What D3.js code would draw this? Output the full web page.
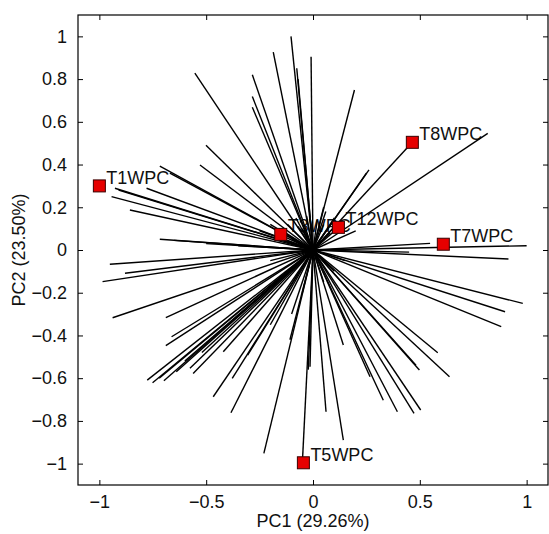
<!DOCTYPE html>
<html><head><meta charset="utf-8">
<script src="https://cdn.jsdelivr.net/npm/d3@7"></script>
<style>
html,body{margin:0;padding:0;background:#fff;}
text{font-family:"Liberation Sans",Arial,sans-serif;fill:#111;}
</style></head>
<body><svg id="c" width="549" height="534"></svg>
<script>
// loading vectors (end points of lines from origin)
const loadX = [-0.103,-0.186,-0.009,-0.076,-0.07,-0.284,-0.284,-0.284,-0.553,-0.501,-0.529,-0.717,-0.927,-0.91,-0.779,-0.943,-0.857,-0.67,-0.717,-0.65,-0.5,-0.35,
  -0.951,-0.88,-0.985,-0.938,-0.689,-0.662,-0.689,-0.776,-0.751,-0.698,-0.576,-0.561,-0.467,-0.42,-0.378,-0.384,-0.23,-0.306,-0.1,-0.014,-0.022,-0.05,-0.72,-0.64,-0.6,-0.52,-0.108,-0.2,
  0.061,0.142,0.142,0.267,0.329,0.395,0.473,0.504,0.482,0.498,0.584,0.639,0.881,0.899,0.982,0.915,1.0,0.548,0.45,
  0.194,0.262,0.25,0.465,0.818,0.119,0.2,0.1,-0.15,0.05,
  -0.12,-0.08,-0.05,0.05,0.08,-0.2,-0.1,0.1,-0.1,0.05,-0.05,0.15,-0.2,0.06,-0.03,-0.16,0.02,-0.25,0.12,-0.07];
const loadY = [1.0,0.926,0.905,0.851,0.80,0.82,0.718,0.668,0.828,0.49,0.398,0.393,0.289,0.28,0.289,0.25,0.187,0.36,0.05,0.045,0.03,0.02,
  -0.067,-0.109,-0.148,-0.317,-0.317,-0.406,-0.448,-0.609,-0.621,-0.612,-0.554,-0.578,-0.687,-0.476,-0.601,-0.762,-0.952,-0.492,-0.3,-0.546,-0.56,-1.0,-0.6,-0.57,-0.52,-0.48,-0.42,-0.35,
  -0.757,-0.89,-0.445,-0.593,-0.703,-0.757,-0.765,-0.749,-0.539,-0.562,-0.481,-0.593,-0.359,-0.289,-0.25,-0.042,0.02,0.031,-0.01,
  0.749,0.375,0.36,0.504,0.546,0.106,0.09,0.15,0.07,0.2,
  0.12,0.15,0.1,0.12,0.08,0.12,0.05,-0.1,-0.1,-0.15,-0.2,-0.05,-0.05,0.18,0.16,0.1,0.14,0.09,0.13,0.11];
// sample scores
const sampleNames = ["T1WPC","T3WPC","T12WPC","T8WPC","T7WPC","T5WPC"];
const sampleX = [-1.0,-0.151,0.119,0.465,0.61,-0.045];
const sampleY = [0.3,0.073,0.106,0.504,0.027,-0.996];
const xTicks = [-1,-0.5,0,0.5,1];
const yTicks = [-1,-0.8,-0.6,-0.4,-0.2,0,0.2,0.4,0.6,0.8,1];
const xLabel = "PC1 (29.26%)";
const yLabel = "PC2 (23.50%)";

const svg = d3.select("#c");
const L=78, R=548, T=15, B=485;
const x = d3.scaleLinear().domain([-1.1,1.1]).range([L,R]);
const y = d3.scaleLinear().domain([-1.1,1.1]).range([B,T]);
const fmt = d => d===0 ? "0" : d3.format("")(+d.toFixed(1));

// labels drawn first (lines may overlap them)
svg.append("g").selectAll("text").data(sampleNames).join("text")
  .attr("x",(d,i)=>x(sampleX[i])+7).attr("y",(d,i)=>y(sampleY[i])-2)
  .attr("font-size",18).text(d=>d);

// lines
svg.append("g").selectAll("line").data(loadX).join("line")
  .attr("x1",x(0)).attr("y1",y(0))
  .attr("x2",(d,i)=>x(d)).attr("y2",(d,i)=>y(loadY[i]))
  .attr("stroke","#000").attr("stroke-width",1.4);

// markers
svg.append("g").selectAll("rect").data(sampleNames).join("rect")
  .attr("x",(d,i)=>x(sampleX[i])-6).attr("y",(d,i)=>y(sampleY[i])-6)
  .attr("width",12).attr("height",12)
  .attr("fill","#e60000").attr("stroke","#3a0000").attr("stroke-width",1);

// axes (box with inward ticks, MATLAB style)
const ax = svg.append("g");
ax.append("g").attr("transform",`translate(0,${B})`)
  .call(d3.axisBottom(x).tickValues(xTicks).tickSizeInner(-5).tickSizeOuter(0).tickPadding(10).tickFormat(fmt));
ax.append("g").attr("transform",`translate(0,${T})`)
  .call(d3.axisTop(x).tickValues(xTicks).tickSizeInner(-5).tickSizeOuter(0).tickFormat(""));
ax.append("g").attr("transform",`translate(${L},0)`)
  .call(d3.axisLeft(y).tickValues(yTicks).tickSizeInner(-5).tickSizeOuter(0).tickPadding(11).tickFormat(fmt));
ax.append("g").attr("transform",`translate(${R},0)`)
  .call(d3.axisRight(y).tickValues(yTicks).tickSizeInner(-5).tickSizeOuter(0).tickFormat(""));
ax.selectAll(".domain").remove();
ax.selectAll(".tick line").attr("stroke","#000");
ax.selectAll(".tick text").attr("font-size",18).attr("fill","#111")
  .style("font-family","'Liberation Sans',Arial,sans-serif");
ax.append("rect").attr("x",L).attr("y",T).attr("width",R-L).attr("height",B-T)
  .attr("fill","none").attr("stroke","#000").attr("stroke-width",1.2);

svg.append("text").attr("x",(L+R)/2).attr("y",527).attr("text-anchor","middle")
  .attr("font-size",18).text(xLabel);
svg.append("text").attr("transform",`translate(25,${(T+B)/2}) rotate(-90)`)
  .attr("text-anchor","middle").attr("font-size",18).text(yLabel);
</script></body></html>
